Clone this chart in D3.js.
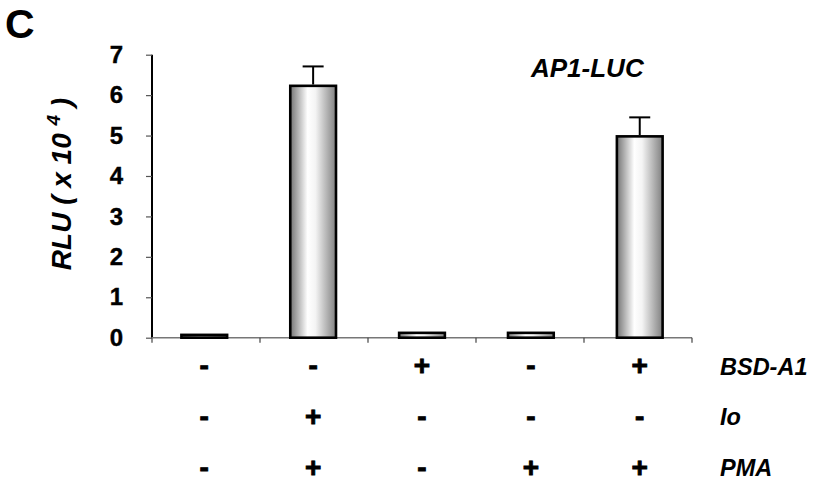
<!DOCTYPE html>
<html>
<head>
<meta charset="utf-8">
<script src="https://cdn.jsdelivr.net/npm/d3@7"></script>
<style>
  body { margin: 0; background: #fff; }
  text { font-family: "Liberation Sans", Arial, sans-serif; font-weight: bold; }
</style>
</head>
<body>
<svg id="chart" width="813" height="482"></svg>
<script>
// data
const groups = ["g1", "g2", "g3", "g4", "g5"];
const values = [0.07, 6.23, 0.12, 0.12, 4.98];
const errors = [0, 0.48, 0, 0, 0.47];
const rowNames = ["BSD-A1", "Io", "PMA"];
const rowSigns = [
  ["-", "-", "+", "-", "+"],
  ["-", "+", "-", "-", "-"],
  ["-", "+", "-", "+", "+"]
];
const yTicks = [0, 1, 2, 3, 4, 5, 6, 7];

const svg = d3.select("#chart");
const plotLeft = 152, plotRight = 692, plotTop = 54.7, plotBottom = 337.7;

const x = d3.scaleBand().domain(groups).range([plotLeft, plotRight]).paddingInner(0.58).paddingOuter(0.27);
const band = d3.scaleBand().domain(groups).range([plotLeft, plotRight]);
const y = d3.scaleLinear().domain([0, 7]).range([plotBottom, plotTop]);

// gradient for the bars
const grad = svg.append("defs").append("linearGradient")
  .attr("id", "barGrad").attr("x1", "0%").attr("x2", "100%").attr("y1", "0%").attr("y2", "0%");
grad.append("stop").attr("offset", "0%").attr("stop-color", "#747474");
grad.append("stop").attr("offset", "38%").attr("stop-color", "#ffffff");
grad.append("stop").attr("offset", "55%").attr("stop-color", "#f4f4f4");
grad.append("stop").attr("offset", "100%").attr("stop-color", "#808080");

// panel letter
svg.append("text").attr("x", 5).attr("y", 38).attr("font-size", 41).text("C");

// y axis
const yAxis = svg.append("g").attr("transform", `translate(${plotLeft},0)`)
  .call(d3.axisLeft(y).tickValues(yTicks).tickSize(6).tickPadding(23).tickFormat(d3.format("d")));
yAxis.select(".domain").attr("stroke", "#000").attr("stroke-width", 2).attr("d", `M0,${plotTop}V${plotBottom}`);
yAxis.selectAll(".tick line").attr("stroke", "#555").attr("stroke-width", 1.2);
yAxis.selectAll(".tick text").attr("font-size", 24).attr("font-family", "Liberation Sans, Arial, sans-serif")
  .attr("font-weight", "bold").attr("fill", "#000").attr("stroke", "#000").attr("stroke-width", 0.4);

// y label
const yl = svg.append("text")
  .attr("transform", "translate(71,184) rotate(-90)")
  .attr("text-anchor", "middle").attr("font-size", 28).attr("font-style", "italic");
yl.append("tspan").text("RLU ( x 10 ");
yl.append("tspan").attr("font-size", 19).attr("dy", -11).text("4");
yl.append("tspan").attr("dy", 11).text(" )");

// x axis line and ticks at band edges
svg.append("line").attr("x1", plotLeft).attr("x2", plotRight).attr("y1", plotBottom).attr("y2", plotBottom)
  .attr("stroke", "#777").attr("stroke-width", 1.6);
svg.selectAll(".xtick").data(groups.concat(["end"])).join("line")
  .attr("class", "xtick")
  .attr("x1", (d, i) => plotLeft + i * band.bandwidth())
  .attr("x2", (d, i) => plotLeft + i * band.bandwidth())
  .attr("y1", plotBottom).attr("y2", plotBottom + 5)
  .attr("stroke", "#444").attr("stroke-width", 1.2);

// bars
svg.selectAll(".bar").data(values).join("rect")
  .attr("class", "bar")
  .attr("x", (d, i) => x(groups[i]))
  .attr("width", x.bandwidth())
  .attr("y", d => y(d))
  .attr("height", d => y(0) - y(d))
  .attr("fill", "url(#barGrad)")
  .attr("stroke", "#000").attr("stroke-width", 2.6);

// error bars
const eb = svg.selectAll(".err").data(values.map((v, i) => ({ v, e: errors[i], g: groups[i] })).filter(d => d.e > 0))
  .join("g").attr("class", "err");
eb.append("line")
  .attr("x1", d => x(d.g) + x.bandwidth() / 2).attr("x2", d => x(d.g) + x.bandwidth() / 2)
  .attr("y1", d => y(d.v) - 1.3).attr("y2", d => y(d.v + d.e))
  .attr("stroke", "#000").attr("stroke-width", 2);
eb.append("line")
  .attr("x1", d => x(d.g) + x.bandwidth() / 2 - 10.5).attr("x2", d => x(d.g) + x.bandwidth() / 2 + 10.5)
  .attr("y1", d => y(d.v + d.e)).attr("y2", d => y(d.v + d.e))
  .attr("stroke", "#000").attr("stroke-width", 2);

// series label
svg.append("text").attr("x", 531).attr("y", 77).attr("font-size", 26).attr("font-style", "italic").text("AP1-LUC");

// treatment rows
const rowY = [366, 416.5, 467.5];
rowSigns.forEach((signs, r) => {
  svg.selectAll(".sign" + r).data(signs).join("text")
    .attr("x", (d, i) => x(groups[i]) + x.bandwidth() / 2)
    .attr("y", rowY[r] + 9)
    .attr("text-anchor", "middle").attr("font-size", 28)
    .attr("stroke", "#000").attr("stroke-width", 0.9)
    .text(d => d);
});
svg.selectAll(".rowname").data(rowNames).join("text")
  .attr("x", 720).attr("y", (d, i) => rowY[i] + 8.5)
  .attr("font-size", 23.5).attr("font-style", "italic")
  .text(d => d);
</script>
</body>
</html>
